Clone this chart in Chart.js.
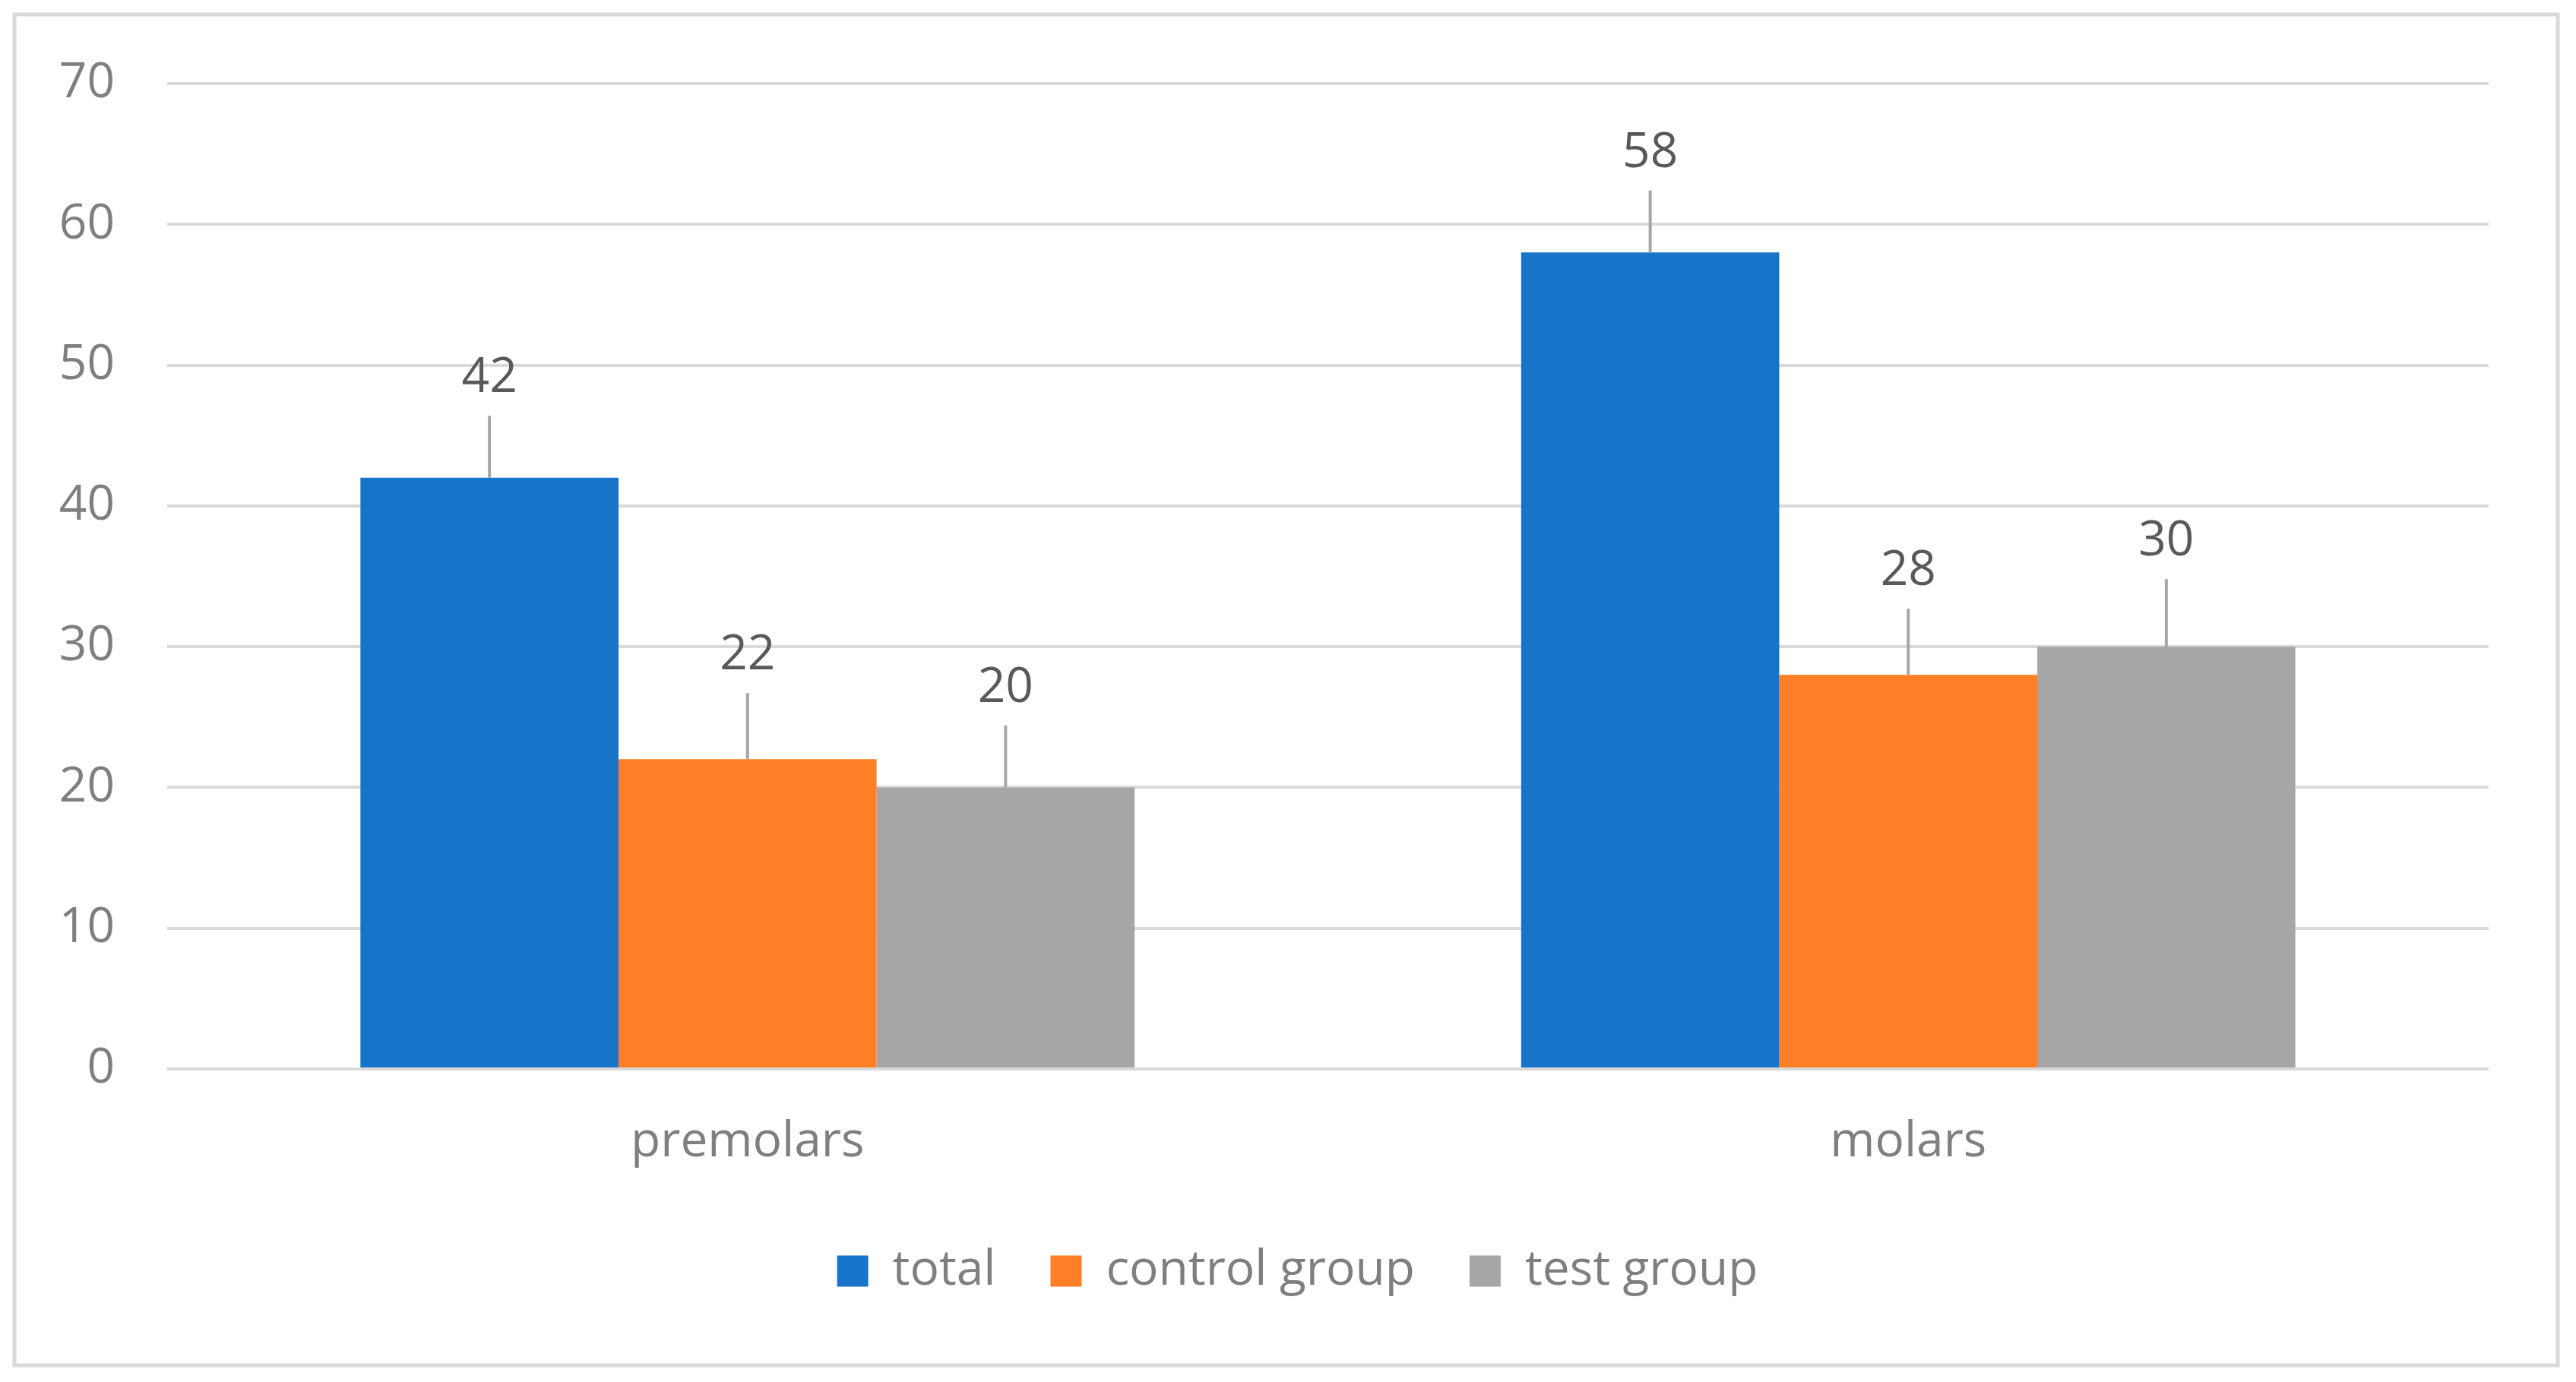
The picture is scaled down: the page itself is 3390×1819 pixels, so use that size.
<!DOCTYPE html>
<html>
<head>
<meta charset="utf-8">
<script src="https://cdn.jsdelivr.net/npm/chart.js@4.4.1/dist/chart.umd.min.js"></script>
<style>
html, body { margin: 0; padding: 0; background: #fff; }
#chartCanvas { display: block; }
</style>
</head>
<body>
<canvas id="chartCanvas" width="3390" height="1819"></canvas>
<script>
const categories = ['premolars', 'molars'];
const seriesNames = ['total', 'control group', 'test group'];
const totalValues = [42, 58];
const controlValues = [22, 28];
const testValues = [20, 30];
// upper error bar lengths
const totalErrors = [4.4, 4.4];
const controlErrors = [4.7, 4.7];
const testErrors = [4.4, 4.8];
const yMin = 0;
const yMax = 70;
const yStep = 10;

const seriesColors = ['#1874C9', '#FF7F27', '#A6A6A6'];
const fontFamily = "'Open Sans', sans-serif";
const fontSize = 64;
const legendPad = 72;

// frame around the whole chart, like the Excel chart area border
const framePlugin = {
	id: 'frame',
	beforeDraw(chart) {
		const ctx = chart.ctx;
		ctx.save();
		ctx.fillStyle = '#ffffff';
		ctx.fillRect(0, 0, chart.width, chart.height);
		ctx.strokeStyle = '#D9D9D9';
		ctx.lineWidth = 5;
		ctx.strokeRect(19, 19, chart.width - 43, chart.height - 41);
		ctx.restore();
	}
};

// error bars (upper only) plus value labels above them
const errorBarPlugin = {
	id: 'errorBars',
	afterDatasetsDraw(chart) {
		const ctx = chart.ctx;
		const yScale = chart.scales.y;
		ctx.save();
		chart.data.datasets.forEach((ds, i) => {
			const meta = chart.getDatasetMeta(i);
			meta.data.forEach((bar, j) => {
				const value = ds.data[j];
				const yEnd = yScale.getPixelForValue(value + ds.errors[j]);
				ctx.strokeStyle = '#A6A6A6';
				ctx.lineWidth = 4;
				ctx.beginPath();
				ctx.moveTo(bar.x, bar.y);
				ctx.lineTo(bar.x, yEnd);
				ctx.stroke();

				ctx.fillStyle = '#595959';
				ctx.font = `${fontSize}px ${fontFamily}`;
				ctx.textAlign = 'center';
				ctx.textBaseline = 'alphabetic';
				ctx.fillText(String(value), bar.x, yEnd - 31);
			});
		});
		ctx.restore();
	}
};

// fixed legend height so the plot area lands where it should,
// and nudge it right to sit where the original legend sits
const legendSizePlugin = {
	id: 'legendSize',
	afterInit(chart) {
		const origFit = chart.legend.fit;
		chart.legend.fit = function() {
			origFit.call(this);
			this.height = 250;
		};
	},
	afterLayout(chart) {
		chart.legend.left += 70;
		chart.legend.right += 70;
	}
};

const ctx = document.getElementById('chartCanvas').getContext('2d');
const chart = new Chart(ctx, {
	type: 'bar',
	data: {
		labels: categories,
		datasets: [
			{ label: seriesNames[0], data: totalValues, errors: totalErrors, backgroundColor: seriesColors[0] },
			{ label: seriesNames[1], data: controlValues, errors: controlErrors, backgroundColor: seriesColors[1] },
			{ label: seriesNames[2], data: testValues, errors: testErrors, backgroundColor: seriesColors[2] }
		]
	},
	options: {
		responsive: false,
		devicePixelRatio: 1,
		animation: false,
		datasets: {
			bar: { categoryPercentage: 0.667, barPercentage: 1.0, borderWidth: 0 }
		},
		layout: { padding: { left: 0, right: 115, top: 110, bottom: 0 } },
		scales: {
			x: {
				grid: { display: false, drawTicks: false },
				border: { display: false },
				ticks: {
					color: '#7F7F7F',
					padding: 58,
					font: { family: fontFamily, size: fontSize }
				},
				afterFit(scale) { scale.height = 162; }
			},
			y: {
				min: yMin,
				max: yMax,
				ticks: {
					stepSize: yStep,
					color: '#7F7F7F',
					padding: 69,
					font: { family: fontFamily, size: fontSize }
				},
				grid: { color: '#D9D9D9', lineWidth: 4, drawTicks: false },
				border: { display: false },
				afterFit(scale) { scale.width = 220; }
			}
		},
		plugins: {
			legend: {
				position: 'bottom',
				labels: {
					boxWidth: 41,
					boxHeight: 41,
					padding: legendPad,
					color: '#7F7F7F',
					font: { family: fontFamily, size: fontSize }
				}
			},
			tooltip: { enabled: false }
		}
	},
	plugins: [framePlugin, errorBarPlugin, legendSizePlugin]
});
</script>
</body>
</html>
